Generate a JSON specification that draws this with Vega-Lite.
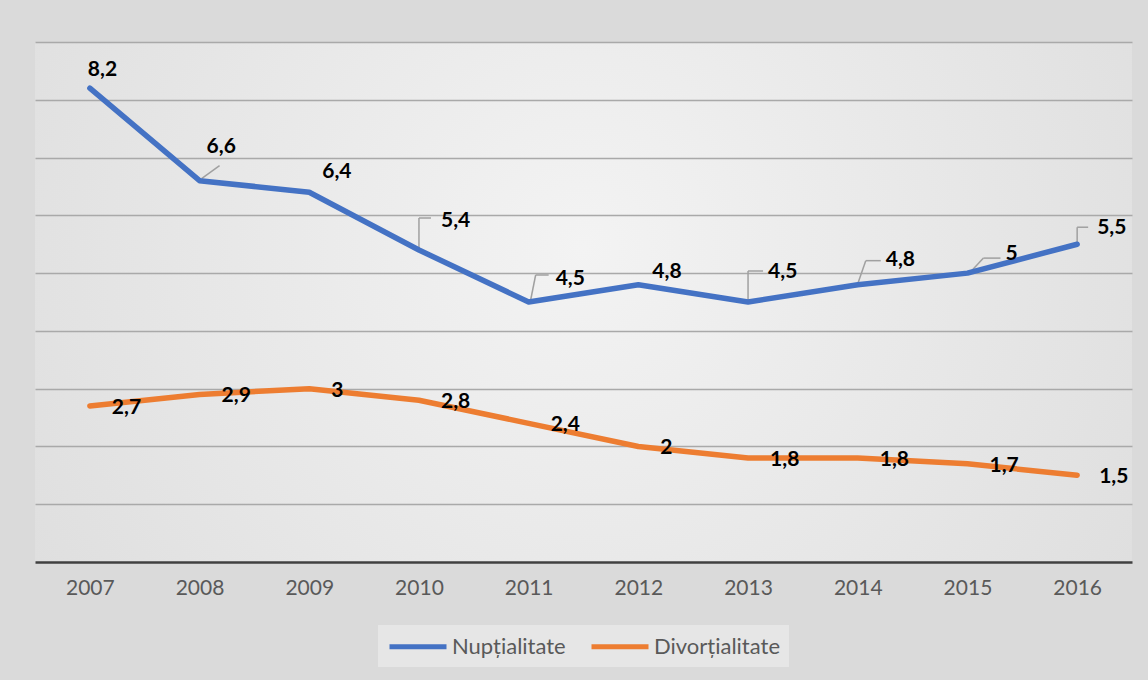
{
  "$schema": "https://vega.github.io/schema/vega-lite/v6.json",
  "width": 1097,
  "height": 520,
  "autosize": "none",
  "padding": {"left": 35, "top": 42, "right": 16, "bottom": 118},
  "background": "#dadada",
  "data": {
    "values": [
      {"year": "2007", "series": "Nupțialitate", "value": 8.2},
      {"year": "2008", "series": "Nupțialitate", "value": 6.6},
      {"year": "2009", "series": "Nupțialitate", "value": 6.4},
      {"year": "2010", "series": "Nupțialitate", "value": 5.4},
      {"year": "2011", "series": "Nupțialitate", "value": 4.5},
      {"year": "2012", "series": "Nupțialitate", "value": 4.8},
      {"year": "2013", "series": "Nupțialitate", "value": 4.5},
      {"year": "2014", "series": "Nupțialitate", "value": 4.8},
      {"year": "2015", "series": "Nupțialitate", "value": 5},
      {"year": "2016", "series": "Nupțialitate", "value": 5.5},
      {"year": "2007", "series": "Divorțialitate", "value": 2.7},
      {"year": "2008", "series": "Divorțialitate", "value": 2.9},
      {"year": "2009", "series": "Divorțialitate", "value": 3},
      {"year": "2010", "series": "Divorțialitate", "value": 2.8},
      {"year": "2011", "series": "Divorțialitate", "value": 2.4},
      {"year": "2012", "series": "Divorțialitate", "value": 2},
      {"year": "2013", "series": "Divorțialitate", "value": 1.8},
      {"year": "2014", "series": "Divorțialitate", "value": 1.8},
      {"year": "2015", "series": "Divorțialitate", "value": 1.7},
      {"year": "2016", "series": "Divorțialitate", "value": 1.5}
    ]
  },
  "encoding": {
    "x": {
      "field": "year",
      "type": "ordinal",
      "scale": {"type": "point", "padding": 0.5},
      "axis": {
        "title": null,
        "labelAngle": 0,
        "ticks": false,
        "grid": false,
        "domainColor": "#404040",
        "domainWidth": 2.5,
        "labelFont": "Lato",
        "labelFontSize": 21,
        "labelColor": "#595959",
        "labelPadding": 15
      }
    },
    "y": {
      "field": "value",
      "type": "quantitative",
      "scale": {"domain": [0, 9], "nice": false},
      "axis": {
        "title": null,
        "labels": false,
        "ticks": false,
        "domain": false,
        "grid": true,
        "values": [1, 2, 3, 4, 5, 6, 7, 8, 9],
        "gridColor": "#a9a9a9",
        "gridWidth": 1.4
      }
    }
  },
  "layer": [
    {"transform": [{"filter": "datum.series === 'Nupțialitate' && datum.year === '2008'"}], "mark": {"type": "rule", "xOffset": 2, "yOffset": -2, "x2Offset": 20, "y2Offset": -15}, "encoding": {"x2": {"field": "year"}, "y2": {"field": "value"}}},
    {"transform": [{"filter": "datum.series === 'Nupțialitate' && datum.year === '2010'"}], "mark": {"type": "rule", "xOffset": 0, "yOffset": -2, "x2Offset": 0, "y2Offset": -32}, "encoding": {"x2": {"field": "year"}, "y2": {"field": "value"}}},
    {"transform": [{"filter": "datum.series === 'Nupțialitate' && datum.year === '2010'"}], "mark": {"type": "rule", "xOffset": 0, "yOffset": -32, "x2Offset": 12, "y2Offset": -32}, "encoding": {"x2": {"field": "year"}, "y2": {"field": "value"}}},
    {"transform": [{"filter": "datum.series === 'Nupțialitate' && datum.year === '2011'"}], "mark": {"type": "rule", "xOffset": 2, "yOffset": -2, "x2Offset": 7, "y2Offset": -27}, "encoding": {"x2": {"field": "year"}, "y2": {"field": "value"}}},
    {"transform": [{"filter": "datum.series === 'Nupțialitate' && datum.year === '2011'"}], "mark": {"type": "rule", "xOffset": 7, "yOffset": -27, "x2Offset": 20, "y2Offset": -27}, "encoding": {"x2": {"field": "year"}, "y2": {"field": "value"}}},
    {"transform": [{"filter": "datum.series === 'Nupțialitate' && datum.year === '2013'"}], "mark": {"type": "rule", "xOffset": 0, "yOffset": -2, "x2Offset": 0, "y2Offset": -31}, "encoding": {"x2": {"field": "year"}, "y2": {"field": "value"}}},
    {"transform": [{"filter": "datum.series === 'Nupțialitate' && datum.year === '2013'"}], "mark": {"type": "rule", "xOffset": 0, "yOffset": -31, "x2Offset": 15, "y2Offset": -31}, "encoding": {"x2": {"field": "year"}, "y2": {"field": "value"}}},
    {"transform": [{"filter": "datum.series === 'Nupțialitate' && datum.year === '2014'"}], "mark": {"type": "rule", "xOffset": 0, "yOffset": -1, "x2Offset": 8, "y2Offset": -24}, "encoding": {"x2": {"field": "year"}, "y2": {"field": "value"}}},
    {"transform": [{"filter": "datum.series === 'Nupțialitate' && datum.year === '2014'"}], "mark": {"type": "rule", "xOffset": 8, "yOffset": -24, "x2Offset": 23, "y2Offset": -24}, "encoding": {"x2": {"field": "year"}, "y2": {"field": "value"}}},
    {"transform": [{"filter": "datum.series === 'Nupțialitate' && datum.year === '2015'"}], "mark": {"type": "rule", "xOffset": 3, "yOffset": -1, "x2Offset": 16, "y2Offset": -15}, "encoding": {"x2": {"field": "year"}, "y2": {"field": "value"}}},
    {"transform": [{"filter": "datum.series === 'Nupțialitate' && datum.year === '2015'"}], "mark": {"type": "rule", "xOffset": 16, "yOffset": -15, "x2Offset": 33, "y2Offset": -15}, "encoding": {"x2": {"field": "year"}, "y2": {"field": "value"}}},
    {"transform": [{"filter": "datum.series === 'Nupțialitate' && datum.year === '2016'"}], "mark": {"type": "rule", "xOffset": 0, "yOffset": -2, "x2Offset": 0, "y2Offset": -17}, "encoding": {"x2": {"field": "year"}, "y2": {"field": "value"}}},
    {"transform": [{"filter": "datum.series === 'Nupțialitate' && datum.year === '2016'"}], "mark": {"type": "rule", "xOffset": 0, "yOffset": -17, "x2Offset": 11, "y2Offset": -17}, "encoding": {"x2": {"field": "year"}, "y2": {"field": "value"}}},
    {
      "mark": {"type": "line", "strokeWidth": 5.5, "strokeCap": "round", "strokeJoin": "round"},
      "encoding": {
        "color": {
          "field": "series",
          "type": "nominal",
          "scale": {"domain": ["Nupțialitate", "Divorțialitate"], "range": ["#4472C4", "#ED7D31"]},
          "legend": {
            "title": null,
            "orient": "none",
            "legendX": 343,
            "legendY": 583,
            "direction": "horizontal",
            "symbolType": "M-1,0H4.7",
            "symbolSize": 400,
            "symbolStrokeWidth": 5,
            "labelFont": "Lato",
            "labelFontSize": 22,
            "labelColor": "#595959",
            "labelOffset": 40,
            "columnPadding": 15,
            "fillColor": "#e6e6e6",
            "padding": 9
          }
        }
      }
    },
    {"transform": [{"filter": "datum.series === 'Divorțialitate'"}], "mark": {"type": "text", "dx": 22, "dy": 2}, "encoding": {"text": {"field": "value", "type": "quantitative", "format": ".1~f"}}},
    {"transform": [{"filter": "datum.series === 'Nupțialitate' && datum.year === '2007'"}], "mark": {"type": "text", "dx": -2, "dy": -18}, "encoding": {"text": {"field": "value", "type": "quantitative", "format": ".1~f"}}},
    {"transform": [{"filter": "datum.series === 'Nupțialitate' && datum.year === '2008'"}], "mark": {"type": "text", "dx": 7, "dy": -34}, "encoding": {"text": {"field": "value", "type": "quantitative", "format": ".1~f"}}},
    {"transform": [{"filter": "datum.series === 'Nupțialitate' && datum.year === '2009'"}], "mark": {"type": "text", "dx": 13, "dy": -20}, "encoding": {"text": {"field": "value", "type": "quantitative", "format": ".1~f"}}},
    {"transform": [{"filter": "datum.series === 'Nupțialitate' && datum.year === '2010'"}], "mark": {"type": "text", "dx": 22, "dy": -29}, "encoding": {"text": {"field": "value", "type": "quantitative", "format": ".1~f"}}},
    {"transform": [{"filter": "datum.series === 'Nupțialitate' && datum.year === '2011'"}], "mark": {"type": "text", "dx": 27, "dy": -23}, "encoding": {"text": {"field": "value", "type": "quantitative", "format": ".1~f"}}},
    {"transform": [{"filter": "datum.series === 'Nupțialitate' && datum.year === '2012'"}], "mark": {"type": "text", "dx": 14, "dy": -13}, "encoding": {"text": {"field": "value", "type": "quantitative", "format": ".1~f"}}},
    {"transform": [{"filter": "datum.series === 'Nupțialitate' && datum.year === '2013'"}], "mark": {"type": "text", "dx": 20, "dy": -30}, "encoding": {"text": {"field": "value", "type": "quantitative", "format": ".1~f"}}},
    {"transform": [{"filter": "datum.series === 'Nupțialitate' && datum.year === '2014'"}], "mark": {"type": "text", "dx": 28, "dy": -25}, "encoding": {"text": {"field": "value", "type": "quantitative", "format": ".1~f"}}},
    {"transform": [{"filter": "datum.series === 'Nupțialitate' && datum.year === '2015'"}], "mark": {"type": "text", "dx": 38, "dy": -19}, "encoding": {"text": {"field": "value", "type": "quantitative", "format": ".1~f"}}},
    {"transform": [{"filter": "datum.series === 'Nupțialitate' && datum.year === '2016'"}], "mark": {"type": "text", "dx": 20, "dy": -16}, "encoding": {"text": {"field": "value", "type": "quantitative", "format": ".1~f"}}}
  ],
  "config": {
    "locale": {"number": {"decimal": ",", "thousands": ".", "grouping": [3], "currency": ["", ""]}},
    "view": {
      "stroke": null,
      "fill": {
        "gradient": "radial",
        "x1": 0.5, "y1": 0.45, "x2": 0.5, "y2": 0.45, "r1": 0, "r2": 0.75,
        "stops": [{"offset": 0, "color": "#f3f3f3"}, {"offset": 1, "color": "#d9d9d9"}]
      }
    },
    "text": {"align": "left", "baseline": "middle", "font": "Lato", "fontSize": 21, "fontWeight": "bold", "color": "#000000"},
    "rule": {"color": "#a0a0a0", "strokeWidth": 1.5}
  }
}
